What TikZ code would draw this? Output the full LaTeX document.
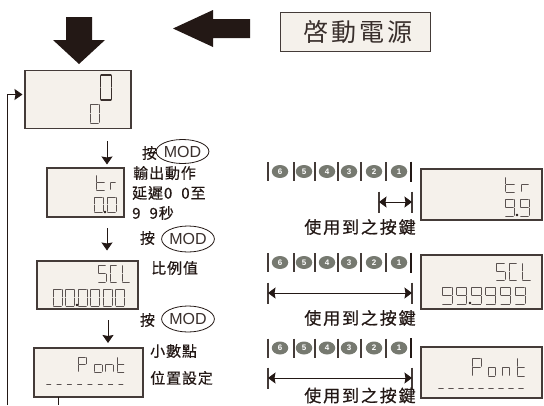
\documentclass[tikz,border=0pt]{standalone}
\usepackage{fontspec}
\setmainfont{Liberation Sans}
\newfontfamily\cjkw[LetterSpace=6,FakeBold=0.5]{Noto Sans CJK TC}
\newfontfamily\cjkww[LetterSpace=11,FakeBold=0.6]{Noto Sans CJK TC}
\newfontfamily\cjkt[LetterSpace=13]{Noto Sans CJK TC}
\usetikzlibrary{arrows.meta,shapes.geometric}
\definecolor{panel}{HTML}{F5F1EB}
\definecolor{ink}{HTML}{231815}
\definecolor{keygray}{HTML}{767970}
\tikzset{
  dispbox/.style={draw=ink!85,line width=1.1pt,fill=panel,inner sep=0pt},
  segline/.style={draw=ink!75,line width=.65pt,line cap=round,shorten >=.6pt,shorten <=.6pt},
  segbold/.style={segline,line width=1.3pt,draw=ink!90},
  flow/.style={draw=ink,line width=.9pt,-{Stealth[length=8pt,width=11pt,inset=1pt]}},
  span/.style={draw=ink,line width=.9pt,{Stealth[length=7.5pt,width=11pt,inset=1pt]}-{Stealth[length=7.5pt,width=11pt,inset=1pt]}},
  tick/.style={draw=ink!85,line width=1.2pt},
  keyb/.style={ellipse,fill=keygray,text=white,inner sep=0pt,minimum width=16.5pt,minimum height=13pt,font=\bfseries\fontsize{8}{8}\selectfont},
  modb/.style={ellipse,draw=ink,line width=.8pt,inner sep=0pt,font=\fontsize{16}{16}\selectfont,text=ink!90},
  lab/.style={inner sep=0pt,text=ink,font=\fontsize{15}{15}\selectfont\cjkw},
  leftlab/.style={lab,anchor=west},
  uselab/.style={inner sep=0pt,text=ink,font=\fontsize{17}{17}\selectfont\cjkww},
  bigarrow/.style={fill=ink,draw=none}
}
\usepackage{etoolbox}
\csdef{sga}{\draw[\segsty] (0,0)--(1,0);}
\csdef{sgb}{\draw[\segsty] (1,0)--(1,.5);}
\csdef{sgc}{\draw[\segsty] (1,.5)--(1,1);}
\csdef{sgd}{\draw[\segsty] (0,1)--(1,1);}
\csdef{sge}{\draw[\segsty] (0,.5)--(0,1);}
\csdef{sgf}{\draw[\segsty] (0,0)--(0,.5);}
\csdef{sgg}{\draw[\segsty] (0,.5)--(1,.5);}
\def\segsty{segline}
% x y width height segments
\newcommand\sevseg[5]{\begin{scope}[shift={(#1,#2)},x=#3pt,y=-#4pt]
  \foreach \s in {#5}{\csname sg\s\endcsname}\end{scope}}
\newcommand\keyrow[2]{%
  \foreach \x in {268,294,315,338,361,386}{\draw[tick] (\x,#1-9.5)--(\x,#1+9.5);}
  \draw[draw=ink,line width=1.8pt] (411,#1-10)--(411,#1+10);
  \foreach \x/\n in {280/6,304/5,327/4,349/3,374/2,399/1}{\node[keyb] (k#2\n) at (\x,#1) {\n};}
}
\begin{document}
\begin{tikzpicture}[x=1pt,y=-1pt]
\useasboundingbox (0,0) rectangle (544,405);
% big arrows
\fill[bigarrow] (66,17)--(92,17)--(92,40)--(105,40)--(79,64)--(53,40)--(66,40)--cycle;
\fill[bigarrow] (250,19)--(213,19)--(213,10)--(173,28.5)--(213,47)--(213,38)--(250,38)--cycle;
% title
\node[dispbox,minimum width=150pt,minimum height=39pt] (title) at (355.5,32) {};
\node[inner sep=0pt,text=ink!90,font=\fontsize{25}{25}\selectfont\cjkt] (titlet) at (358,32) {啓動電源};
% left displays
\node[dispbox,minimum width=106pt,minimum height=58pt] (d0) at (78,99.5) {};
\node[dispbox,minimum width=77pt,minimum height=49pt] (d1) at (85.5,192.5) {};
\node[dispbox,minimum width=101pt,minimum height=48pt] (d2) at (87.5,285) {};
\node[dispbox,minimum width=109pt,minimum height=49pt] (d3) at (88.5,372.5) {};
% right displays
\node[dispbox,minimum width=121pt,minimum height=51pt] (r1) at (481.5,194.5) {};
\node[dispbox,minimum width=121pt,minimum height=54pt] (r2) at (481.5,282) {};
\node[dispbox,minimum width=121pt,minimum height=51pt] (r3) at (481.5,372.5) {};
% digits: d0
{\def\segsty{segbold}\sevseg{100.5}{75}{11}{25}{a,b,c,d,e,f}}
\sevseg{90}{104}{9}{19}{a,b,c,d,e,f}
% d1
\sevseg{96}{175}{9}{15}{f,e,g,d}
\sevseg{110}{175}{6}{15}{e,g}
\sevseg{94}{197}{9}{15}{a,b,c,d,e,f}
\sevseg{107}{197}{9}{15}{a,b,c,d,e,f}
\fill[ink] (105,212) circle (1.3pt);
% d2
\sevseg{98}{265}{8}{17}{a,f,g,c,d}
\sevseg{110}{265}{7}{17}{a,f,e,d}
\sevseg{122}{265}{8}{17}{f,e,d}
\foreach \x in {53,65.5,78,90.5,103,115.5}{\sevseg{\x}{289}{9}{17}{a,b,c,d,e,f}}
\fill[ink] (77,305) circle (1.3pt);
% d3
\sevseg{78}{357}{8}{15}{a,b,f,e,g}
\sevseg{94}{357}{8}{15}{e,c,d,g}
\sevseg{105}{357}{8}{15}{e,c,g}
\sevseg{117}{357}{7.5}{15}{f,e,g,d}
\foreach \x in {46,56.3,66.6,76.9,87.2,97.5,107.8,118.1}{\draw[segline] (\x,384)--++(5.5,0);}
% r1
\sevseg{505.5}{177}{9.5}{15}{f,e,g,d}
\sevseg{521}{177}{8}{15}{e,g}
\sevseg{505}{199}{9}{17}{a,b,c,d,f,g}
\sevseg{520}{199}{9}{17}{a,b,c,d,f,g}
\fill[ink] (517,215) circle (1.3pt);
% r2
\sevseg{496}{263}{9}{17}{a,f,g,c,d}
\sevseg{509}{263}{8}{17}{a,f,e,d}
\sevseg{522}{263}{9}{17}{f,e,d}
\foreach \x in {442,456.6,471.2,485.8,500.4,515}{\sevseg{\x}{287}{10}{17}{a,b,c,d,f,g}}
\fill[ink] (470,303) circle (1.3pt);
% r3
\sevseg{472}{358}{9}{18}{a,b,f,e,g}
\sevseg{488}{358}{7.5}{18}{e,c,d,g}
\sevseg{502}{358}{7.5}{18}{e,c,g}
\sevseg{517}{358}{8}{18}{f,e,g,d}
\foreach \x in {438,448,458,468,478,488,498,508,518}{\draw[segline] (\x,388)--++(6,0);}
% flow arrows
\coordinate (a1s) at (107,141); \coordinate (a1e) at (107,164.5);
\coordinate (a2s) at (107,228); \coordinate (a2e) at (107,250.5);
\coordinate (a3s) at (108,320); \coordinate (a3e) at (108,343);
\draw[flow] (a1s)--(a1e);
\draw[flow] (a2s)--(a2e);
\draw[flow] (a3s)--(a3e);
% feedback
\coordinate (fbs) at (7,405); \coordinate (fbe) at (22.5,94.5);
\draw[flow] (fbs)--(7,94.5)--(fbe);
\coordinate (d3out) at (58,405);
\draw[draw=ink,line width=.9pt] (58,397)--(d3out);
% left labels
\node[lab] (p1) at (149.5,153) {按};
\node[modb,minimum width=47pt,minimum height=24pt] (m1) at (182.5,151.5) {MOD};
\node[leftlab] (t1) at (133,173) {輸出動作};
\node[leftlab] (t2) at (132,193) {延遲0\hspace{9pt}0至};
\node[leftlab] (t3) at (132,213) {9\hspace{9pt}9秒};
\node[lab] (p2) at (147.5,238) {按};
\node[modb,minimum width=48pt,minimum height=26pt] (m2) at (188,239) {MOD};
\node[leftlab] (t4) at (151,268) {比例值};
\node[lab] (p3) at (147.5,320) {按};
\node[modb,minimum width=48pt,minimum height=26pt] (m3) at (188,319) {MOD};
\node[leftlab] (t5) at (150,351) {小數點};
\node[leftlab] (t6) at (150,378) {位置設定};
% key rows
\keyrow{171.5}{a}
\keyrow{262.5}{b}
\keyrow{348}{c}
% spans
\foreach \nm/\xa/\y in {a/379/202,b/268/293,c/268/378}{
  \coordinate (\nm L) at (\xa,\y); \coordinate (\nm R) at (412,\y);
  \draw[tick] (\xa,\y-10.5)--(\xa,\y+10.5);
  \draw[tick] (412,\y-10.5)--(412,\y+10.5);
  \draw[span] (\nm L)--(\nm R);
}
\node[uselab] (u1) at (360,227) {使用到之按鍵};
\node[uselab] (u2) at (360,318) {使用到之按鍵};
\node[uselab] (u3) at (360,395.5) {使用到之按鍵};
\end{tikzpicture}
\end{document}
